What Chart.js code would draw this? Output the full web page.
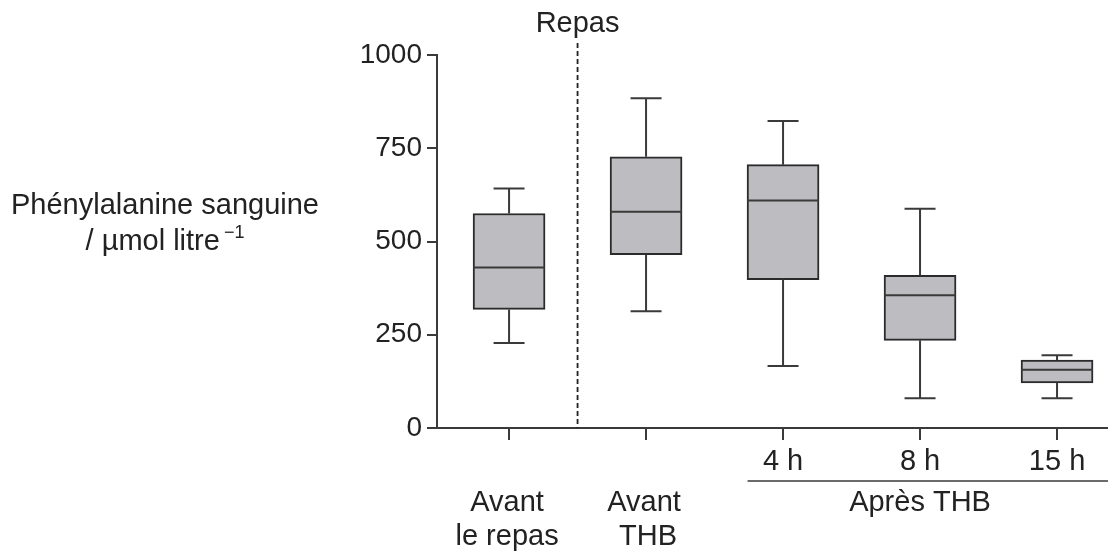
<!DOCTYPE html>
<html>
<head>
<meta charset="utf-8">
<script src="https://cdn.jsdelivr.net/npm/chart.js@4"></script>
<style>
  html, body { margin: 0; padding: 0; background: #fff; }
  #wrap { width: 1108px; height: 556px; position: relative; }
</style>
</head>
<body>
<div id="wrap"><canvas id="boxChart"></canvas></div>
<script>
// Données (µmol/litre)
const categories = ['Avant le repas', 'Avant THB', '4 h', '8 h', '15 h'];
const whiskerMin = [228, 313, 166, 80, 80];
const q1Values   = [318, 465, 398, 235, 121];
const medians    = [430, 580, 610, 356, 156];
const q3Values   = [575, 727, 706, 409, 182];
const whiskerMax = [642, 884, 823, 588, 195];
const yTicks = [0, 250, 500, 750, 1000];

// Étiquettes de l'axe x (plusieurs lignes)
const catLabels = [['Avant', 'le repas'], ['Avant', 'THB'], ['4 h'], ['8 h'], ['15 h']];
const groupLabel = 'Après THB';
const mealLabel = 'Repas';
const yTitle = ['Phénylalanine sanguine', '/ \u00b5mol litre'];

const FONT = '"Liberation Sans", Arial, Helvetica, sans-serif';
const INK = '#222222';
const LINE = '#3a3a3a';

// Plugin: moustaches, médianes, ligne "Repas", étiquettes
const boxExtras = {
    id: 'boxExtras',
    afterDatasetsDraw(chart) {
        const ctx = chart.ctx;
        const xs = chart.scales.x;
        const ys = chart.scales.y;
        const bars = chart.getDatasetMeta(0).data;
        ctx.save();
        ctx.strokeStyle = LINE;
        ctx.lineWidth = 2;
        categories.forEach((c, i) => {
            const cx = xs.getPixelForValue(i + 1);
            const half = bars[i] ? bars[i].width / 2 : 36;
            const cap = 15.5;
            ctx.beginPath();
            // moustache haute
            ctx.moveTo(cx, ys.getPixelForValue(q3Values[i]));
            ctx.lineTo(cx, ys.getPixelForValue(whiskerMax[i]));
            ctx.moveTo(cx - cap, ys.getPixelForValue(whiskerMax[i]));
            ctx.lineTo(cx + cap, ys.getPixelForValue(whiskerMax[i]));
            // moustache basse
            ctx.moveTo(cx, ys.getPixelForValue(q1Values[i]));
            ctx.lineTo(cx, ys.getPixelForValue(whiskerMin[i]));
            ctx.moveTo(cx - cap, ys.getPixelForValue(whiskerMin[i]));
            ctx.lineTo(cx + cap, ys.getPixelForValue(whiskerMin[i]));
            // médiane
            ctx.moveTo(cx - half, ys.getPixelForValue(medians[i]));
            ctx.lineTo(cx + half, ys.getPixelForValue(medians[i]));
            ctx.stroke();
        });

        // ligne pointillée du repas
        const mx = xs.getPixelForValue(1.5);
        ctx.setLineDash([5, 3]);
        ctx.lineWidth = 1.8;
        ctx.strokeStyle = '#222';
        ctx.beginPath();
        ctx.moveTo(mx, 43);
        ctx.lineTo(mx, ys.bottom);
        ctx.stroke();
        ctx.setLineDash([]);
        ctx.strokeStyle = LINE;

        ctx.fillStyle = INK;
        ctx.font = '29px ' + FONT;
        ctx.textAlign = 'center';
        ctx.textBaseline = 'middle';
        ctx.fillText(mealLabel, mx, 24);

        // étiquettes des catégories
        catLabels.forEach((lines, i) => {
            const cx = xs.getPixelForValue(i + 1);
            if (lines.length === 1) {
                ctx.fillText(lines[0], cx, 462);
            } else {
                ctx.fillText(lines[0], cx - 2, 503);
                ctx.fillText(lines[1], cx + (i === 1 ? 2 : -2), 537);
            }
        });

        // groupe "Après THB"
        const gx0 = xs.getPixelForValue(2.5) + 33;
        ctx.lineWidth = 1.5;
        ctx.beginPath();
        ctx.moveTo(gx0, 481);
        ctx.lineTo(chart.width, 481);
        ctx.stroke();
        ctx.fillText(groupLabel, xs.getPixelForValue(4), 503);

        // titre de l'axe y
        ctx.fillText(yTitle[0], 165, 206);
        const w2 = ctx.measureText(yTitle[1]).width;
        ctx.font = '18px ' + FONT;
        const sup = '\u22121';
        const ws = ctx.measureText(sup).width;
        const start = 165 - (w2 + 4 + ws) / 2;
        ctx.textAlign = 'left';
        ctx.fillText(sup, start + w2 + 4, 233);
        ctx.font = '29px ' + FONT;
        ctx.fillText(yTitle[1], start, 242);
        ctx.restore();
    }
};

const boxData = categories.map((c, i) => ({ x: i + 1, y: [q1Values[i], q3Values[i]] }));

new Chart(document.getElementById('boxChart'), {
    type: 'bar',
    data: {
        datasets: [{
            label: 'Phénylalanine',
            data: boxData,
            backgroundColor: '#bdbdc1',
            borderColor: '#2b2b2b',
            borderWidth: 2,
            borderSkipped: false,
            barThickness: 72
        }]
    },
    options: {
        responsive: true,
        maintainAspectRatio: false,
        animation: false,
        layout: { padding: { top: 55, right: 0, left: 0, bottom: 0 } },
        plugins: {
            legend: { display: false },
            tooltip: { enabled: false }
        },
        scales: {
            x: {
                type: 'linear',
                offset: false,
                min: 0.474,
                max: 5.372,
                afterBuildTicks: s => { s.ticks = categories.map((c, i) => ({ value: i + 1 })); },
                afterFit: s => { s.height = 128; },
                ticks: { callback: () => '', padding: 0 },
                grid: { offset: false, drawOnChartArea: false, drawTicks: true, tickLength: 12, color: LINE, lineWidth: 2 },
                border: { color: LINE, width: 2 }
            },
            y: {
                min: 0,
                max: 1000,
                afterBuildTicks: s => { s.ticks = yTicks.map(v => ({ value: v })); },
                afterFit: s => { s.width = 437; },
                ticks: {
                    color: INK,
                    font: { family: FONT, size: 28 },
                    padding: 5,
                    callback: v => String(v)
                },
                grid: { drawOnChartArea: false, drawTicks: true, tickLength: 10, color: LINE, lineWidth: 2 },
                border: { color: LINE, width: 2 }
            }
        }
    },
    plugins: [boxExtras]
});
</script>
</body>
</html>
